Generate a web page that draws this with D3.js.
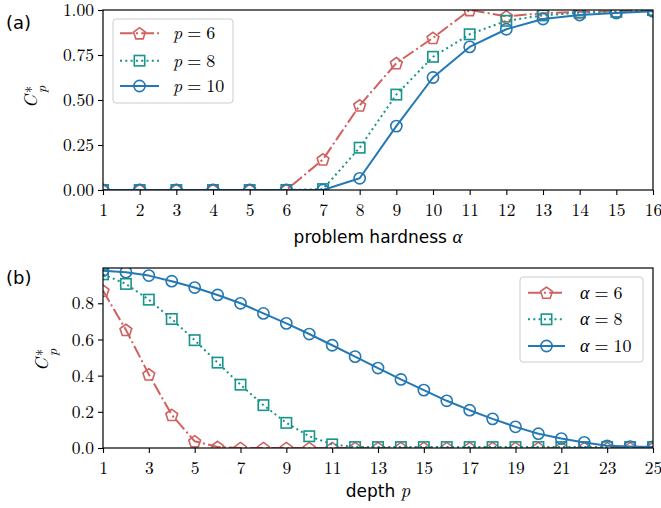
<!DOCTYPE html>
<html>
<head>
<meta charset="utf-8">
<script src="https://cdn.jsdelivr.net/npm/d3@7"></script>
<style>
  body { margin: 0; background: #fff; }
  svg { display: block; }
</style>
</head>
<body>
<svg id="chart" width="661" height="508"></svg>
<script>
// ---- data: panel (a), optimal C*_p versus problem hardness alpha ----
const hardness = [1, 2, 3, 4, 5, 6, 7, 8, 9, 10, 11, 12, 13, 14, 15, 16];
const cDepth6  = [0, 0, 0, 0, 0, 0, 0.17, 0.47, 0.705, 0.845, 1.0, 0.965, 0.982, 0.99, 0.992, 1.0];
const cDepth8  = [0, 0, 0, 0, 0, 0, 0.005, 0.235, 0.53, 0.74, 0.865, 0.94, 0.97, 0.985, 0.99, 1.0];
const cDepth10 = [0, 0, 0, 0, 0, 0, 0, 0.065, 0.355, 0.625, 0.795, 0.893, 0.95, 0.972, 0.983, 0.993];
const hardnessTicks = [1, 2, 3, 4, 5, 6, 7, 8, 9, 10, 11, 12, 13, 14, 15, 16];
const topYTicks = [0, 0.25, 0.5, 0.75, 1.0];
const depthLegend = ["6", "8", "10"];

// ---- data: panel (b), optimal C*_p versus circuit depth p ----
const depths = [1, 2, 3, 4, 5, 6, 7, 8, 9, 10, 11, 12, 13, 14, 15, 16, 17, 18, 19, 20, 21, 22, 23, 24, 25];
const cAlpha6  = [0.87, 0.653, 0.407, 0.183, 0.037, 0.006, 0, 0, 0, 0, 0, 0, 0, 0, 0, 0, 0, 0, 0, 0, 0, 0, 0, 0, 0];
const cAlpha8  = [0.96, 0.907, 0.82, 0.713, 0.596, 0.472, 0.35, 0.237, 0.139, 0.065, 0.02,
                  0.005, 0.005, 0.005, 0.005, 0.005, 0.005, 0.005, 0.005, 0.005, 0.005, 0.005, 0.005, 0.005, 0.005];
const cAlpha10 = [0.98, 0.972, 0.953, 0.922, 0.887, 0.846, 0.80, 0.744, 0.689, 0.63, 0.568, 0.505, 0.442,
                  0.379, 0.32, 0.261, 0.209, 0.161, 0.117, 0.079, 0.052, 0.031, 0.012, 0.008, 0.006];
const depthTicks = [1, 3, 5, 7, 9, 11, 13, 15, 17, 19, 21, 23, 25];
const bottomYTicks = [0, 0.2, 0.4, 0.6, 0.8];
const alphaLegend = ["6", "8", "10"];

// ---- styles ----
const RED = "#d1605e", TEAL = "#16958a", BLUE = "#2378b5";
const seriesStyle = [
  { color: RED,  shape: "pentagon", dash: "12.8,3.2,2,3.2" },
  { color: TEAL, shape: "square",   dash: "2,3.3" },
  { color: BLUE, shape: "circle",   dash: null }
];
const SERIF = "'Latin Modern Roman', 'Liberation Serif', serif";
const SANS = "'DejaVu Sans', sans-serif";

const svg = d3.select("#chart");

function drawMarker(g, shape, cx, cy, color) {
  const sw = 1.6;
  if (shape === "circle") {
    g.append("circle").attr("cx", cx).attr("cy", cy).attr("r", 5.6)
      .attr("fill", "none").attr("stroke", color).attr("stroke-width", sw);
  } else if (shape === "square") {
    const s = 10.4;
    g.append("rect").attr("x", cx - s / 2).attr("y", cy - s / 2).attr("width", s).attr("height", s)
      .attr("fill", "none").attr("stroke", color).attr("stroke-width", sw);
  } else {
    const r = 6.2;
    const pts = d3.range(5).map(k => {
      const a = (-90 + 72 * k) * Math.PI / 180;
      return [cx + r * Math.cos(a), cy + r * Math.sin(a) + 0.6];
    });
    g.append("polygon").attr("points", pts.map(p => p.join(",")).join(" "))
      .attr("fill", "none").attr("stroke", color).attr("stroke-width", sw)
      .attr("stroke-linejoin", "miter");
  }
}

function drawPanel(opts) {
  const { id, xs, series, xDomain, yDomain, xRange, yRange, xTicks, yTicks, yFmt } = opts;
  const x = d3.scaleLinear().domain(xDomain).range(xRange);
  const y = d3.scaleLinear().domain(yDomain).range(yRange);
  const g = svg.append("g");

  svg.append("clipPath").attr("id", id)
    .append("rect")
    .attr("x", xRange[0]).attr("y", yRange[1])
    .attr("width", xRange[1] - xRange[0]).attr("height", yRange[0] - yRange[1]);

  const plot = g.append("g").attr("clip-path", `url(#${id})`);
  const line = d3.line().x((d, i) => x(xs[i])).y(d => y(d));

  series.forEach((vals, si) => {
    const st = seriesStyle[si];
    const sg = plot.append("g");
    sg.append("path").datum(vals).attr("d", line)
      .attr("fill", "none").attr("stroke", st.color).attr("stroke-width", 2)
      .attr("stroke-dasharray", st.dash).attr("stroke-linejoin", "round");
    vals.forEach((v, i) => drawMarker(sg, st.shape, x(xs[i]), y(v), st.color));
  });

  // axes
  const xAxis = d3.axisBottom(x).tickValues(xTicks).tickSize(5).tickPadding(9).tickFormat(d3.format("d"));
  const yAxis = d3.axisLeft(y).tickValues(yTicks).tickSize(5).tickPadding(4).tickFormat(d3.format(yFmt));
  const gx = g.append("g").attr("transform", `translate(0,${yRange[0]})`).call(xAxis);
  const gy = g.append("g").attr("transform", `translate(${xRange[0]},0)`).call(yAxis);
  [gx, gy].forEach(a => {
    a.attr("font-family", null).attr("font-size", null);
    a.select(".domain").remove();
    a.selectAll(".tick line").attr("stroke", "#000").attr("stroke-width", 1.1);
    a.selectAll(".tick text").attr("fill", "#000").style("font-family", SERIF).style("font-size", "17.5px");
  });

  // frame
  g.append("rect")
    .attr("x", xRange[0]).attr("y", yRange[1])
    .attr("width", xRange[1] - xRange[0]).attr("height", yRange[0] - yRange[1])
    .attr("fill", "none").attr("stroke", "#000").attr("stroke-width", 1.2);
  return { x, y, g };
}

// rotated C^*_p label; (ox, oy) is the baseline point of the C
function drawYLabel(ox, oy) {
  const g = svg.append("g").attr("transform", `translate(${ox},${oy}) rotate(-90)`)
    .style("font-family", SERIF).attr("fill", "#000");
  g.append("text").attr("x", -8).attr("y", 0).style("font-size", "18px").style("font-style", "italic").text("C");
  g.append("text").attr("x", 7).attr("y", -1).style("font-size", "14px").text("*");
  g.append("text").attr("x", 7).attr("y", 9).style("font-size", "14px").style("font-style", "italic").text("p");
}

function drawLegend(box, rows, symbol, labels) {
  const g = svg.append("g");
  g.append("rect").attr("x", box.x).attr("y", box.y).attr("width", box.w).attr("height", box.h)
    .attr("rx", 3).attr("fill", "#fff").attr("fill-opacity", 0.8)
    .attr("stroke", "#cccccc").attr("stroke-width", 1);
  labels.forEach((lab, i) => {
    const st = seriesStyle[i];
    const cy = rows[i];
    g.append("line").attr("x1", box.hx0).attr("x2", box.hx1).attr("y1", cy).attr("y2", cy)
      .attr("stroke", st.color).attr("stroke-width", 2).attr("stroke-dasharray", st.dash);
    drawMarker(g, st.shape, (box.hx0 + box.hx1) / 2, cy, st.color);
    const t = g.append("text").attr("x", box.tx).attr("y", cy + 6)
      .style("font-family", SERIF).style("font-size", "18px").attr("fill", "#000");
    t.append("tspan").style("font-style", "italic").text(symbol);
    t.append("tspan").attr("dx", 5).text("=");
    t.append("tspan").attr("dx", 5).text(lab);
  });
}

// ---- panel (a) ----
drawPanel({
  id: "clipA", xs: hardness, series: [cDepth6, cDepth8, cDepth10],
  xDomain: [1, 16], yDomain: [0, 1], xRange: [103, 653], yRange: [190, 10],
  xTicks: hardnessTicks, yTicks: topYTicks, yFmt: ".2f"
});
drawYLabel(37, 100);
const xlabA = svg.append("text").attr("x", 378).attr("y", 243).attr("text-anchor", "middle")
  .attr("fill", "#000").style("font-size", "17px");
xlabA.append("tspan").style("font-family", SANS).text("problem hardness ");
xlabA.append("tspan").style("font-family", SERIF).style("font-style", "italic").style("font-size", "19px").text("α");
svg.append("text").attr("x", 6).attr("y", 29).style("font-family", SANS).style("font-size", "18px").text("(a)");
drawLegend({ x: 113, y: 19, w: 120, h: 84, hx0: 120, hx1: 159, tx: 173 }, [33.3, 60.7, 86], "p", depthLegend);

// ---- panel (b) ----
drawPanel({
  id: "clipB", xs: depths, series: [cAlpha6, cAlpha8, cAlpha10],
  xDomain: [1, 25], yDomain: [0, 0.995], xRange: [103, 653], yRange: [448, 268],
  xTicks: depthTicks, yTicks: bottomYTicks, yFmt: ".1f"
});
drawYLabel(48, 363);
const xlabB = svg.append("text").attr("x", 378).attr("y", 497).attr("text-anchor", "middle")
  .attr("fill", "#000").style("font-size", "17px");
xlabB.append("tspan").style("font-family", SANS).text("depth ");
xlabB.append("tspan").style("font-family", SERIF).style("font-style", "italic").style("font-size", "19px").text("p");
svg.append("text").attr("x", 6).attr("y", 284).style("font-family", SANS).style("font-size", "18px").text("(b)");
drawLegend({ x: 520, y: 277, w: 123, h: 85, hx0: 528, hx1: 565, tx: 580 }, [292.7, 319.3, 346], "α", alphaLegend);
</script>
</body>
</html>
